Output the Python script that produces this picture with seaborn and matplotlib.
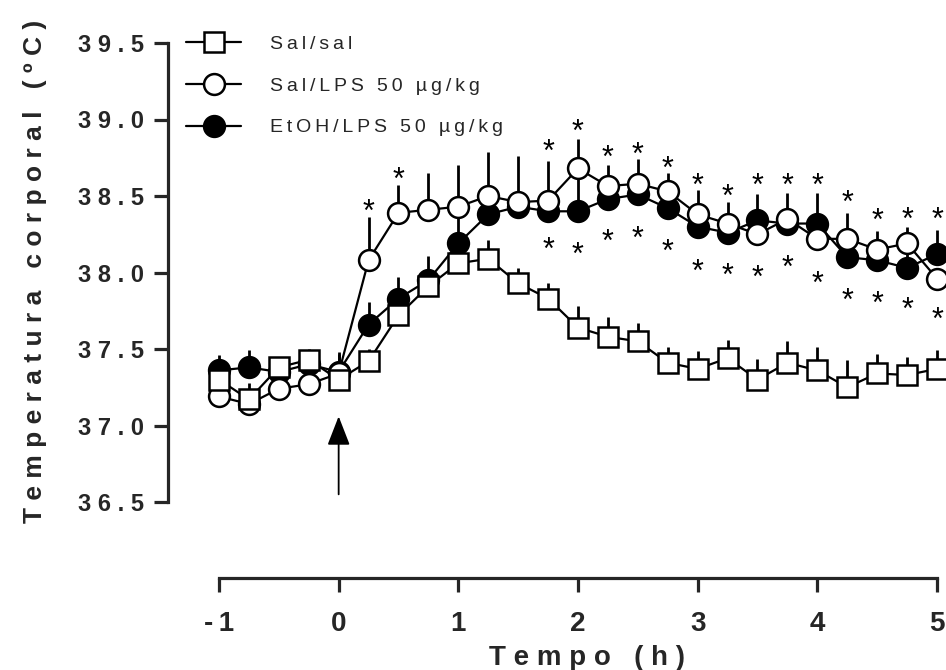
import numpy as np
import pandas as pd
import matplotlib
matplotlib.use("Agg")
import matplotlib.pyplot as plt
import matplotlib.transforms as mtransforms
from matplotlib.lines import Line2D
import seaborn as sns

# ---------------- data ----------------
tempo = [-1, -0.75, -0.5, -0.25, 0, 0.25, 0.5, 0.75, 1, 1.25, 1.5, 1.75, 2,
         2.25, 2.5, 2.75, 3, 3.25, 3.5, 3.75, 4, 4.25, 4.5, 4.75, 5]

sal_sal = [37.30, 37.17, 37.38, 37.43, 37.30, 37.42, 37.72, 37.91, 38.06, 38.09,
           37.93, 37.83, 37.64, 37.58, 37.55, 37.41, 37.37, 37.44, 37.30, 37.41,
           37.36, 37.25, 37.34, 37.33, 37.37]
sal_sal_err = [0.05, 0.11, 0.05, 0.07, 0.05, 0.08, 0.10, 0.08, 0.10, 0.12,
               0.10, 0.10, 0.14, 0.13, 0.12, 0.10, 0.12, 0.12, 0.135, 0.14,
               0.15, 0.175, 0.13, 0.115, 0.125]

sal_lps = [37.19, 37.14, 37.24, 37.27, 37.34, 38.08, 38.39, 38.41, 38.43, 38.50,
           38.46, 38.47, 38.68, 38.565, 38.58, 38.53, 38.38, 38.32, 38.25, 38.35,
           38.22, 38.22, 38.15, 38.19, 37.96]
sal_lps_err = [0.03, 0.03, 0.04, 0.04, 0.13, 0.28, 0.18, 0.24, 0.275, 0.29,
               0.30, 0.26, 0.19, 0.14, 0.16, 0.12, 0.16, 0.14, 0.05, 0.17,
               0.05, 0.17, 0.12, 0.11, 0.05]

etoh_lps = [37.36, 37.38, 37.35, 37.40, 37.35, 37.66, 37.83, 37.95, 38.19, 38.38,
            38.43, 38.40, 38.40, 38.48, 38.51, 38.42, 38.30, 38.26, 38.34, 38.32,
            38.32, 38.10, 38.08, 38.03, 38.12]
etoh_lps_err = [0.10, 0.115, 0.05, 0.05, 0.13, 0.15, 0.14, 0.16, 0.20, 0.10,
                0.10, 0.10, 0.28, 0.10, 0.10, 0.10, 0.10, 0.10, 0.17, 0.10,
                0.20, 0.10, 0.10, 0.10, 0.16]

# significance asterisks (upper row: Sal/LPS, lower row: EtOH/LPS)
star_up_x = [0.25, 0.5, 1.75, 2, 2.25, 2.5, 2.75, 3, 3.25, 3.5, 3.75, 4, 4.25, 4.5, 4.75, 5]
star_up_y = [38.45, 38.66, 38.84, 38.97, 38.80, 38.82, 38.73, 38.62, 38.55, 38.62,
             38.62, 38.62, 38.51, 38.39, 38.40, 38.40]
star_dn_x = [1.75, 2, 2.25, 2.5, 2.75, 3, 3.25, 3.5, 3.75, 4, 4.25, 4.5, 4.75, 5]
star_dn_y = [38.20, 38.17, 38.25, 38.27, 38.19, 38.06, 38.03, 38.02, 38.08, 37.98,
             37.87, 37.85, 37.81, 37.74]

labels = ["Sal/sal", "Sal/LPS 50 \u00b5g/kg", "EtOH/LPS 50 \u00b5g/kg"]
yticks = [36.5, 37.0, 37.5, 38.0, 38.5, 39.0, 39.5]
xticks = [-1, 0, 1, 2, 3, 4, 5]

# ---------------- style ----------------
sns.set_style("ticks")
plt.rcParams["font.family"] = ["Liberation Sans", "DejaVu Sans"]

TS = "\u2009"  # thin space, used for the wide letter spacing


def spaced(s, sep=TS):
    return sep.join(list(s))


W, H = 946, 670
fig = plt.figure(figsize=(W / 100, H / 100), dpi=100)
ax = fig.add_axes([168 / W, (H - 578) / H, (W - 168) / W, (578 - 43) / H])
ax.set_xlim(-1 - 51 / 119.7, 5 + 9 / 119.7)
ax.set_ylim(36.5 - 76 / 153, 39.5)

df = pd.DataFrame({"t": tempo, "sal": sal_sal, "lps": sal_lps, "etoh": etoh_lps})

series = [
    ("etoh", etoh_lps_err, "o", "black", 3, labels[2]),
    ("lps", sal_lps_err, "o", "white", 4, labels[1]),
    ("sal", sal_sal_err, "s", "white", 5, labels[0]),
]
handles = {}
for col, err, mk, fc, z, lab in series:
    ms = 15 if mk == "o" else 14.5
    ax.vlines(df["t"], df[col], df[col] + np.array(err), color="black",
              linewidth=2.0, zorder=z - 0.5, clip_on=False)
    sns.lineplot(data=df, x="t", y=col, ax=ax, color="black", linewidth=1.6,
                 marker=mk, markersize=ms,
                 markerfacecolor=fc, markeredgecolor="black",
                 markeredgewidth=1.8, zorder=z, clip_on=False, legend=False)
    handles[lab] = Line2D([], [], color="black", linewidth=1.6, marker=mk,
                          markersize=ms, markerfacecolor=fc,
                          markeredgecolor="black", markeredgewidth=1.8)

# asterisks
fs_star = 22
off = mtransforms.offset_copy(ax.transData, fig=fig, y=-0.56 * fs_star, units="points")
for xs, ys in ((star_up_x, star_up_y), (star_dn_x, star_dn_y)):
    for xv, yv in zip(xs, ys):
        ax.text(xv, yv, "*", transform=off, ha="center", va="baseline",
                fontsize=fs_star, color="black", zorder=6)

# arrow at time 0
ax.annotate("", xy=(0, 37.06), xytext=(0, 36.55),
            arrowprops=dict(arrowstyle="-|>,head_length=1.8,head_width=0.7",
                            color="black", lw=1.3, shrinkA=0, shrinkB=0))

# spines / ticks
sns.despine(ax=ax)
ax.spines["left"].set_bounds(36.5, 39.5)
ax.spines["bottom"].set_bounds(-1, 5)
for s in ("left", "bottom"):
    ax.spines[s].set_linewidth(2.3)
ax.set_yticks(yticks)
ax.set_xticks(xticks)
ax.set_yticklabels([spaced(f"{v:.1f}", " ") for v in yticks],
                   fontsize=17, fontweight="bold")
ax.set_xticklabels([spaced(str(v)) for v in xticks], fontsize=20,
                   fontweight="bold",
                   family=["Liberation Sans Narrow", "Liberation Sans", "DejaVu Sans"])
ax.tick_params(axis="y", direction="out", length=10, width=2.3, pad=7)
ax.tick_params(axis="x", direction="out", length=10, width=2.3, pad=14)

ax.set_ylabel(spaced("Temperatura corporal (\u00baC)", " "), fontsize=19,
              fontweight="bold")
ax.yaxis.set_label_coords(-0.156, 0.574)
ax.set_xlabel(spaced("Tempo (h)", " "), fontsize=20, fontweight="bold")
ax.xaxis.set_label_coords(0.5386, -0.125)

# legend
leg = ax.legend([handles[l] for l in labels], [spaced(l) for l in labels],
                loc="upper left", bbox_to_anchor=(186 / W, (H - 35) / H),
                bbox_transform=fig.transFigure, frameon=False, fontsize=14,
                handlelength=2.85, handletextpad=1.45, labelspacing=1.25,
                borderpad=0, borderaxespad=0)

fig.savefig("out.png", dpi=100)
